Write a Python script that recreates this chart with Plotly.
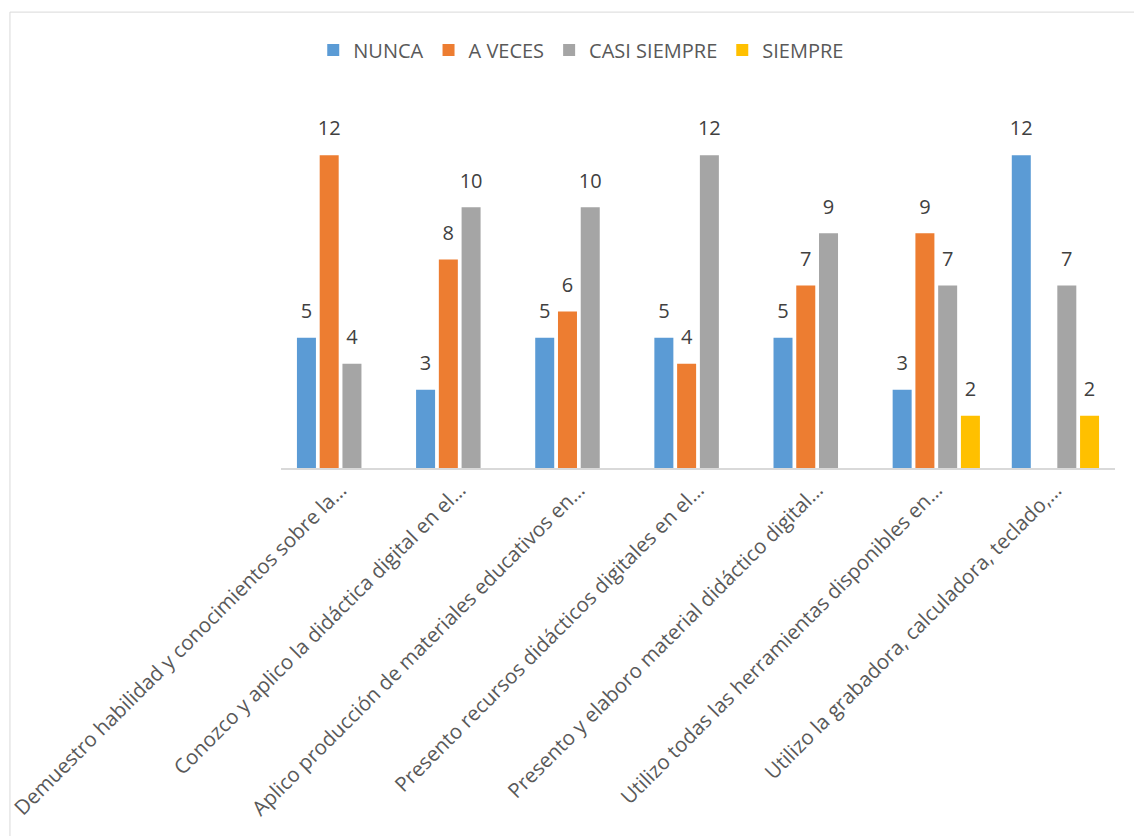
import plotly.graph_objects as go

categories = [
    "Demuestro habilidad y conocimientos sobre la…",
    "Conozco y aplico la didáctica digital en el…",
    "Aplico producción de materiales educativos en…",
    "Presento recursos didácticos digitales en el…",
    "Presento y elaboro material didáctico digital…",
    "Utilizo todas las herramientas disponibles en…",
    "Utilizo la grabadora, calculadora, teclado,…",
]
series_names = ["NUNCA", "A VECES", "CASI SIEMPRE", "SIEMPRE"]
nunca = [5, 3, 5, 5, 5, 3, 12]
a_veces = [12, 8, 6, 4, 7, 9, None]
casi_siempre = [4, 10, 10, 12, 9, 7, 7]
siempre = [None, None, None, None, None, 2, 2]
colors = ["#5B9BD5", "#ED7D31", "#A5A5A5", "#FFC000"]

FONT = "Open Sans"
fig = go.Figure()
all_series = [nunca, a_veces, casi_siempre, siempre]
for i, (name, vals, col) in enumerate(zip(series_names, all_series, colors)):
    fig.add_trace(go.Bar(
        x=categories, y=vals, name=name, marker_color=col,
        marker_line_width=0, offsetgroup=str(i),
    ))
for i, (name, vals) in enumerate(zip(series_names, all_series)):
    fig.add_trace(go.Scatter(
        x=categories, y=vals, mode="text+markers",
        text=[("" if v is None else str(v)) for v in vals],
        textposition="top center",
        textfont=dict(family=FONT, size=20, color="#404040"),
        marker=dict(size=22, opacity=0),
        offsetgroup=str(i), showlegend=False, hoverinfo="skip",
        cliponaxis=False,
    ))

fig.update_layout(
    width=1134, height=836,
    margin=dict(l=281, r=19, t=103, b=368, autoexpand=False),
    paper_bgcolor="white", plot_bgcolor="white",
    barmode="group", bargap=0.236, bargroupgap=0.165,
    scattermode="group",
    font=dict(family=FONT, color="#595959"),
    legend=dict(
        orientation="h", x=0.36, xanchor="center", y=1.145, yanchor="middle",
        font=dict(family=FONT, size=20, color="#595959"),
        traceorder="normal",
    ),
    xaxis=dict(
        showline=True, linecolor="#D9D9D9", linewidth=2, ticks="",
        tickangle=-45, tickfont=dict(family=FONT, size=20.5, color="#595959"),
        showgrid=False, automargin=False,
    ),
    yaxis=dict(
        range=[0, 14], visible=False, showgrid=False, zeroline=False,
        automargin=False,
    ),
    shapes=[dict(
        type="rect", xref="paper", yref="paper",
        x0=-0.325, x1=1.03, y0=-1.047, y1=1.249,
        line=dict(color="#D9D9D9", width=1), fillcolor="rgba(0,0,0,0)",
        layer="below",
    )],
)

fig.write_html("out.html")
